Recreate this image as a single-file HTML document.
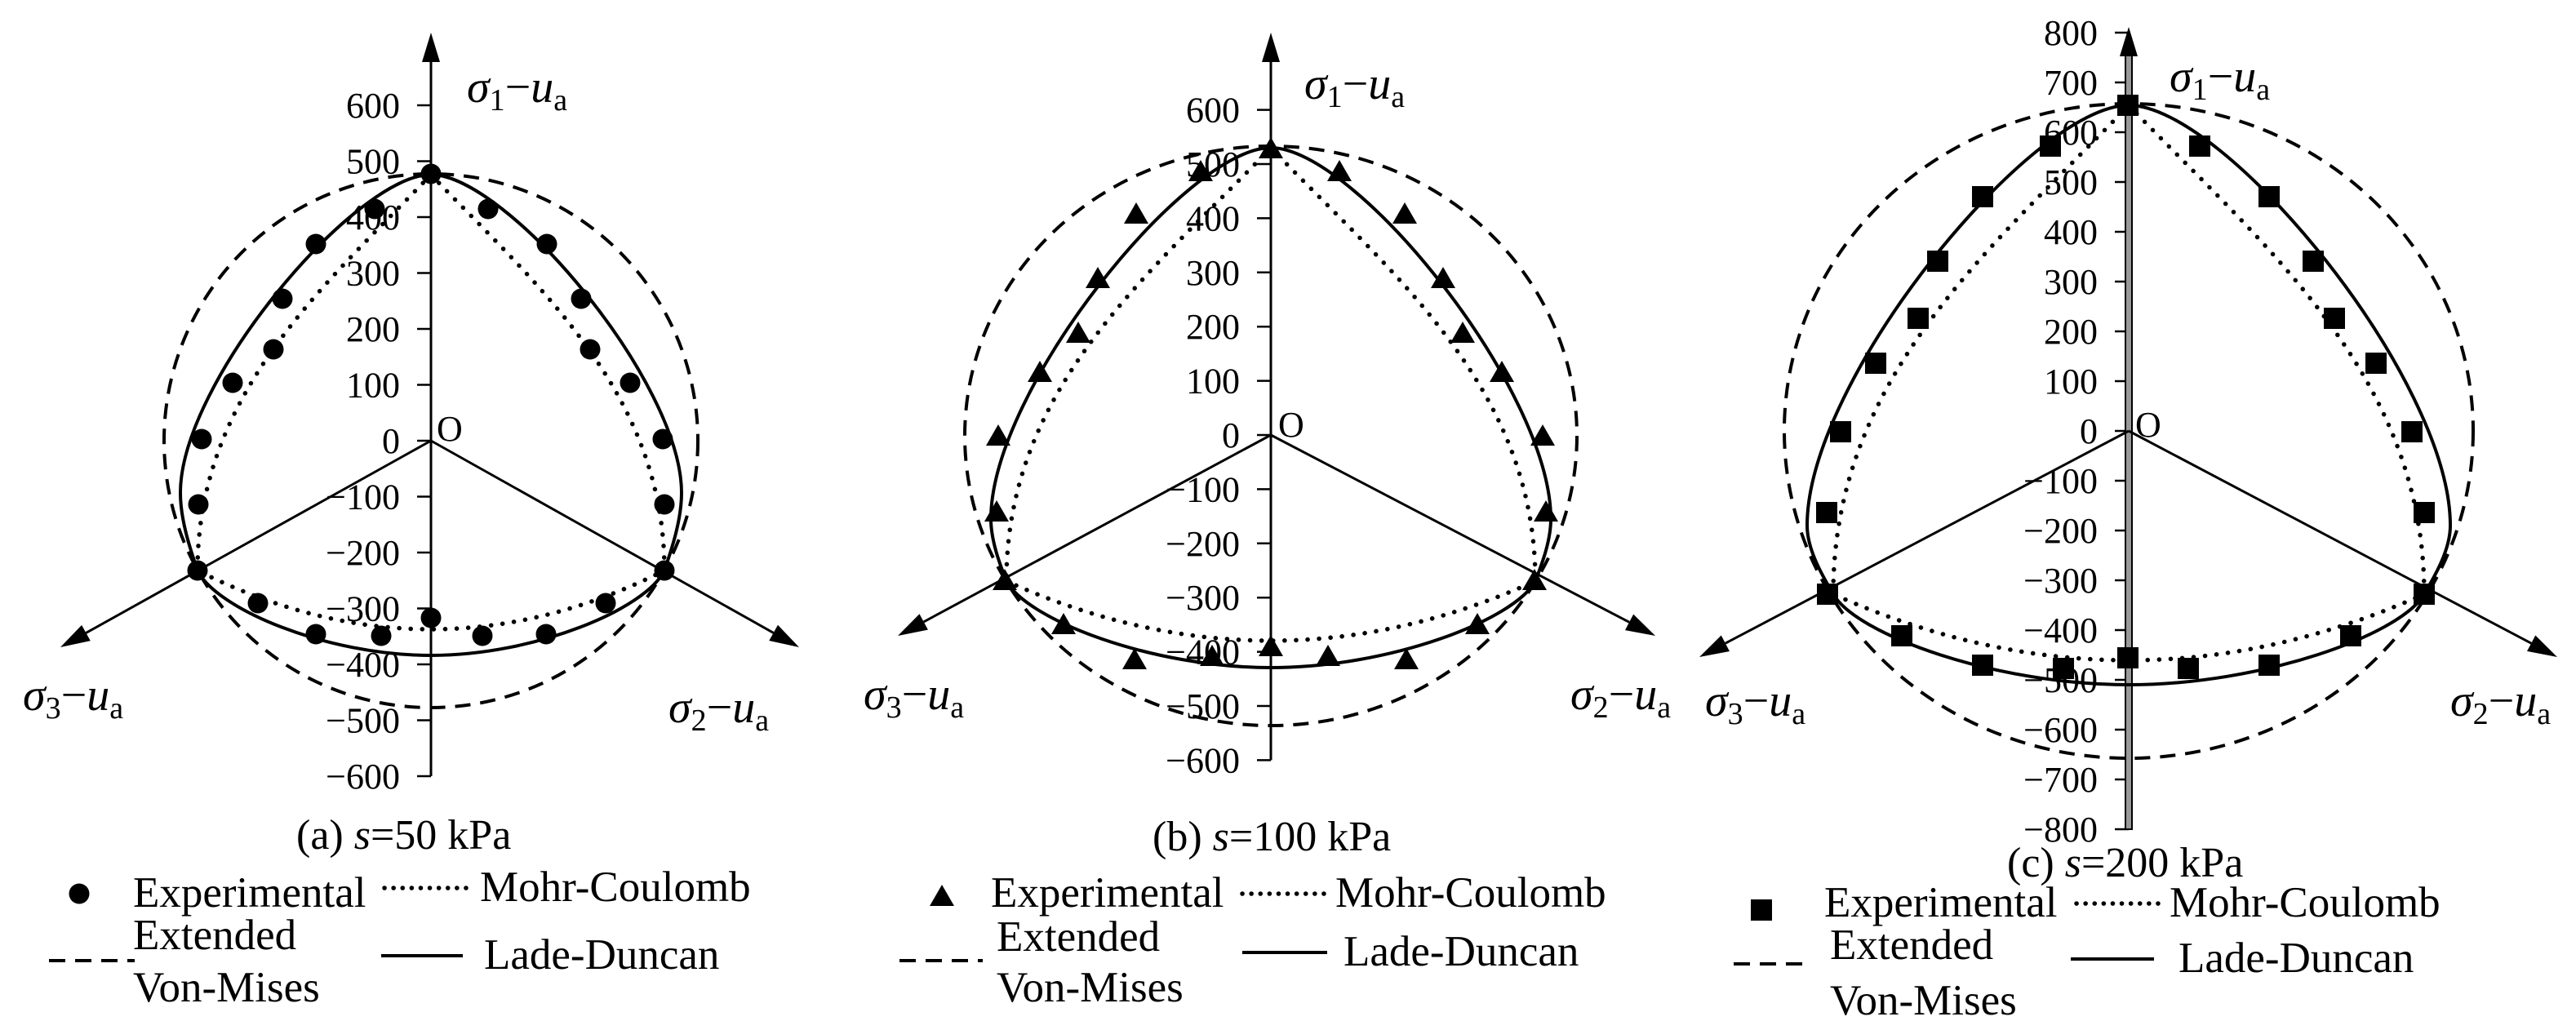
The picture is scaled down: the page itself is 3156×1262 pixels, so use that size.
<!DOCTYPE html>
<html><head><meta charset="utf-8"><style>
html,body{margin:0;padding:0;background:#fff;}
svg{display:block;}
text{font-family:"Liberation Serif",serif;fill:#000;}
</style></head><body>
<svg id="s" width="3156" height="1262" xmlns="http://www.w3.org/2000/svg"></svg>
<script>
const S=document.getElementById('s');let h='';
const P=[
{cx:528,cy:540,u:68.5,tip:40,lo:-600,hi:600,step:100,top:214,dxV:286,vy:699,ex:307,ey:604,yb:803,ym:771,rx:327,ry:327,vcy:540,
 tipL:[74,793],tipR:[979,793],lab:[572,125],l3:[28,870],l2:[819,885],O:[535,540],cap:[363,1040,'(a) ','50'],mk:'c',
 pts:[[528,213],[459,256],[598,256],[387,299],[670,299],[346,366],[712,366],[335,428],[723,428],[285,469],[772,469],[247,538],[812,538],[243,618],[814,618],[242,699],[814,699],[316,739],[742,739],[387,777],[669,777],[467,779],[591,779],[528,757]],
 lg:{m:[97,1095],exp:[163,1111],dot:[471,579,1088],mc:[588,1104],dash:[60,165,1177],ext:[163,1163],vm:[163,1227],sol:[467,567,1171],ld:[593,1187]}},
{cx:1557,cy:533,u:66.4,tip:40,lo:-600,hi:600,step:100,top:181,dxV:324,vy:712,ex:343,ey:636,yb:818,ym:785,rx:375,ry:355,vcy:534,
 tipL:[1100,779],tipR:[2028,779],lab:[1598,121],l3:[1058,869],l2:[1924,869],O:[1566,535],cap:[1412,1042,'(b) ','100'],mk:'t',
 pts:[[1557,183],[1471,211],[1641,211],[1392,263],[1721,263],[1345,342],[1768,342],[1321,409],[1792,409],[1274,457],[1840,457],[1223,535],[1890,535],[1221,628],[1894,628],[1231,712],[1880,712],[1303,766],[1810,766],[1390,809],[1723,809],[1485,805],[1627,805],[1557,793]],
 lg:{m:[1154,1099],exp:[1214,1111],dot:[1522,1633,1095],mc:[1636,1111],dash:[1102,1204,1177],ext:[1221,1165],vm:[1221,1227],sol:[1522,1626,1167],ld:[1646,1183]}},
{cx:2608,cy:528,u:61,tip:33,lo:-800,hi:800,step:100,top:129,dxV:362,vy:728,ex:394,ey:644,yb:839,ym:809,rx:422,ry:401,vcy:528,
 tipL:[2082,805],tipR:[3133,805],lab:[2658,112],l3:[2089,877],l2:[3002,877],O:[2616,535],cap:[2459,1074,'(c) ','200'],mk:'s',dbl:1,
 pts:[[2607,129],[2512,179],[2695,179],[2429,241],[2780,241],[2374,320],[2834,320],[2350,390],[2860,390],[2298,445],[2911,445],[2255,529],[2955,529],[2238,628],[2970,628],[2239,728],[2970,728],[2330,779],[2880,779],[2429,815],[2780,815],[2528,819],[2681,819],[2607,806]],
 lg:{m:[2158,1115],exp:[2235,1123],dot:[2544,2653,1107],mc:[2658,1123],dash:[2124,2219,1181],ext:[2242,1175],vm:[2242,1243],sol:[2537,2639,1175],ld:[2669,1191]}}
];
function arrow(x1,y1,x2,y2){const a=Math.atan2(y2-y1,x2-x1),L=36,W=11;
 const bx=x2-L*Math.cos(a),by=y2-L*Math.sin(a),nx=-Math.sin(a)*W,ny=Math.cos(a)*W;
 h+=`<line x1="${x1}" y1="${y1}" x2="${bx}" y2="${by}" stroke="#000" stroke-width="3"/>`;
 h+=`<polygon points="${x2},${y2} ${bx+nx},${by+ny} ${bx-nx},${by-ny}" fill="#000"/>`;}
function sig(x,y,n){return `<text x="${x}" y="${y}" font-size="56"><tspan font-style="italic">σ</tspan><tspan font-size="38" dy="10">${n}</tspan><tspan dy="-10">−</tspan><tspan font-style="italic">u</tspan><tspan font-size="38" dy="10">a</tspan></text>`;}
function mark(t,x,y){if(t=='c')h+=`<circle cx="${x}" cy="${y}" r="12.5" fill="#000"/>`;
 else if(t=='s')h+=`<rect x="${x-13}" y="${y-13}" width="26" height="26" fill="#000"/>`;
 else h+=`<polygon points="${x},${y-15} ${x-15},${y+11} ${x+15},${y+11}" fill="#000"/>`;}
for(const p of P){const cx=p.cx,cy=p.cy;
 for(let v=p.lo;v<=p.hi;v+=p.step){const y=cy-v/100*p.u;
  h+=`<line x1="${cx-17}" y1="${y}" x2="${cx}" y2="${y}" stroke="#000" stroke-width="2.5"/>`;
  h+=`<text x="${cx-38}" y="${y+15}" font-size="44" text-anchor="end">${v<0?'−'+(-v):v}</text>`;}
 const yb0=cy-p.lo/100*p.u;
 if(p.dbl){h+=`<rect x="${cx-4}" y="${p.tip+30}" width="8" height="${yb0-p.tip-30}" fill="#999" stroke="#000" stroke-width="2"/>`;
  h+=`<polygon points="${cx},${p.tip} ${cx-11},${p.tip+36} ${cx+11},${p.tip+36}" fill="#000"/>`;}
 else arrow(cx,yb0,cx,p.tip);
 arrow(cx,cy,p.tipL[0],p.tipL[1]);arrow(cx,cy,p.tipR[0],p.tipR[1]);
 h+=`<ellipse cx="${cx}" cy="${p.vcy}" rx="${p.rx}" ry="${p.ry}" fill="none" stroke="#000" stroke-width="4" stroke-dasharray="19 12"/>`;
 const vxR=cx+p.dxV,vxL=cx-p.dxV,vy=p.vy,T=p.top,d=p.dxV;
 const Cb=2*p.ym-vy;
 function mc(s){return `C${cx+s*0.45*d},${T+0.47*d} ${cx+s*d},${vy-0.45*(vy-T)} ${cx+s*d},${vy}`;}
 h+=`<path d="M${cx},${T} ${mc(1)} Q${cx},${Cb} ${vxL},${vy}" fill="none" stroke="#000" stroke-width="5.5" stroke-linecap="round" stroke-dasharray="0.1 14"/>`;
 h+=`<path d="M${cx},${T} ${mc(-1)}" fill="none" stroke="#000" stroke-width="5.5" stroke-linecap="round" stroke-dasharray="0.1 14"/>`;
 const e=p.ex,ey=p.ey,H=ey-T,yb=p.yb;
 function half(s){return `C${cx+s*0.3*e},${T} ${cx+s*e},${ey-0.35*H} ${cx+s*e},${ey} C${cx+s*e},${ey+0.38*(vy-ey)} ${cx+s*(d+0.3*(e-d))},${vy-0.2*(vy-ey)} ${cx+s*d},${vy} C${cx+s*(d-0.08*d)},${vy+0.45*(yb-vy)} ${cx+s*0.45*d},${yb} ${cx},${yb}`;}
 h+=`<path d="M${cx},${T} ${half(1)}" fill="none" stroke="#000" stroke-width="4"/>`;
 h+=`<path d="M${cx},${T} ${half(-1)}" fill="none" stroke="#000" stroke-width="4"/>`;
 for(const q of p.pts)mark(p.mk,q[0],q[1]);
 h+=sig(p.lab[0],p.lab[1],1)+sig(p.l3[0],p.l3[1],3)+sig(p.l2[0],p.l2[1],2);
 h+=`<text x="${p.O[0]}" y="${p.O[1]}" font-size="44">O</text>`;
 h+=`<text x="${p.cap[0]}" y="${p.cap[1]}" font-size="52">${p.cap[2]}<tspan font-style="italic">s</tspan>=${p.cap[3]} kPa</text>`;
 const g=p.lg;mark(p.mk,g.m[0],g.m[1]);
 const fs=53;
 h+=`<text x="${g.exp[0]}" y="${g.exp[1]}" font-size="${fs}">Experimental</text>`;
 h+=`<line x1="${g.dot[0]}" y1="${g.dot[2]}" x2="${g.dot[1]}" y2="${g.dot[2]}" stroke="#000" stroke-width="5.5" stroke-linecap="round" stroke-dasharray="0.1 11"/>`;
 h+=`<text x="${g.mc[0]}" y="${g.mc[1]}" font-size="${fs}">Mohr-Coulomb</text>`;
 h+=`<line x1="${g.dash[0]}" y1="${g.dash[2]}" x2="${g.dash[1]}" y2="${g.dash[2]}" stroke="#000" stroke-width="4" stroke-dasharray="20 12"/>`;
 h+=`<text x="${g.ext[0]}" y="${g.ext[1]}" font-size="${fs}">Extended</text>`;
 h+=`<text x="${g.vm[0]}" y="${g.vm[1]}" font-size="${fs}">Von-Mises</text>`;
 h+=`<line x1="${g.sol[0]}" y1="${g.sol[2]}" x2="${g.sol[1]}" y2="${g.sol[2]}" stroke="#000" stroke-width="4"/>`;
 h+=`<text x="${g.ld[0]}" y="${g.ld[1]}" font-size="${fs}">Lade-Duncan</text>`;
}
S.innerHTML=h;
</script>
</body></html>
